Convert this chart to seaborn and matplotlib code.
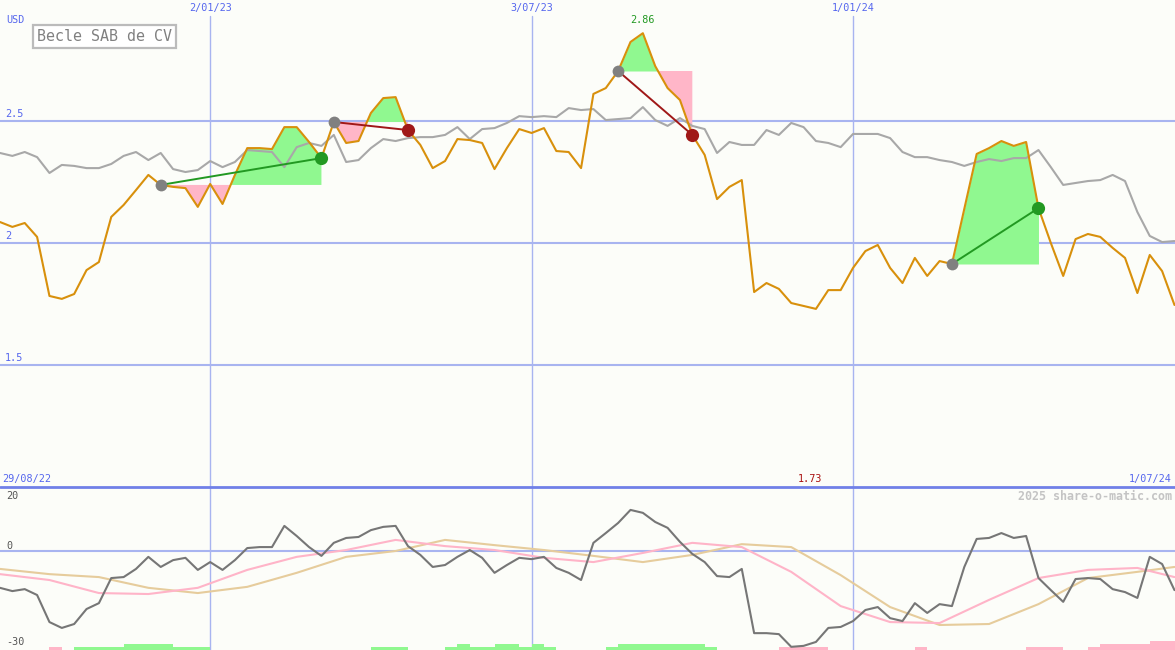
import numpy as np
import pandas as pd
import matplotlib
matplotlib.use('Agg')
import matplotlib.pyplot as plt
import seaborn as sns

# weekly closes, Becle SAB de CV (USD)
dates = pd.date_range('2022-09-05', periods=96, freq='7D')
close = [2.086, 2.066, 2.082, 2.025, 1.783, 1.771, 1.791, 1.889, 1.922, 2.107,
         2.156, 2.217, 2.279, 2.238, 2.230, 2.225, 2.148, 2.242, 2.160, 2.279,
         2.389, 2.389, 2.385, 2.475, 2.475, 2.414, 2.348, 2.496, 2.410, 2.418,
         2.533, 2.594, 2.598, 2.463, 2.402, 2.307, 2.336, 2.426, 2.422, 2.410,
         2.303, 2.389, 2.467, 2.451, 2.471, 2.377, 2.373, 2.307, 2.611, 2.635,
         2.705, 2.824, 2.860, 2.725, 2.635, 2.586, 2.443, 2.361, 2.180, 2.230,
         2.258, 1.799, 1.836, 1.812, 1.754, 1.742, 1.730, 1.807, 1.807, 1.898,
         1.967, 1.992, 1.898, 1.836, 1.939, 1.865, 1.926, 1.914, 2.140, 2.365,
         2.389, 2.418, 2.398, 2.414, 2.143, 2.000, 1.865, 2.016, 2.037, 2.025,
         1.980, 1.939, 1.795, 1.951, 1.885, 1.746]
# relative index line (grey)
index_line = [2.369, 2.357, 2.373, 2.352, 2.287, 2.320, 2.316, 2.307, 2.307, 2.324,
              2.357, 2.373, 2.340, 2.369, 2.303, 2.291, 2.299, 2.336, 2.311, 2.332,
              2.381, 2.377, 2.373, 2.311, 2.393, 2.410, 2.398, 2.443, 2.332, 2.340,
              2.389, 2.426, 2.418, 2.430, 2.434, 2.434, 2.443, 2.475, 2.426, 2.467,
              2.471, 2.492, 2.520, 2.516, 2.520, 2.516, 2.553, 2.545, 2.549, 2.504,
              2.508, 2.512, 2.557, 2.504, 2.480, 2.512, 2.480, 2.467, 2.369, 2.414,
              2.402, 2.402, 2.463, 2.443, 2.492, 2.475, 2.418, 2.410, 2.393, 2.447,
              2.447, 2.447, 2.430, 2.373, 2.352, 2.352, 2.340, 2.332, 2.316, 2.332,
              2.344, 2.336, 2.348, 2.348, 2.381, 2.311, 2.238, 2.246, 2.254, 2.258,
              2.279, 2.254, 2.127, 2.029, 2.004, 2.008]
# lower panel oscillator
momentum = [-11.3, -12.3, -11.7, -13.5, -21.8, -23.6, -22.4, -17.8, -16.0, -8.3,
            -8.0, -5.5, -1.8, -4.9, -2.8, -2.1, -5.8, -3.4, -5.8, -2.8,
            0.9, 1.2, 1.2, 7.7, 4.6, 1.2, -1.5, 2.5, 4.0, 4.3,
            6.4, 7.4, 7.7, 1.5, -1.2, -4.9, -4.3, -1.8, 0.3, -2.1,
            -6.7, -4.3, -2.1, -2.5, -1.8, -5.2, -6.7, -8.9, 2.5, 5.5,
            8.6, 12.6, 11.7, 8.9, 7.1, 2.8, -0.9, -3.4, -7.7, -8.0,
            -5.5, -25.2, -25.2, -25.5, -29.4, -29.1, -27.9, -23.6, -23.3, -21.5,
            -18.1, -17.2, -20.6, -21.5, -16.0, -19.0, -16.3, -16.9, -4.9, 3.7,
            4.0, 5.5, 4.0, 4.6, -8.3, -12.0, -15.6, -8.6, -8.3, -8.6,
            -11.7, -12.6, -14.4, -1.8, -4.0, -12.0]
smooth_idx = [0, 4, 8, 12, 16, 20, 24, 28, 32, 36, 40, 44, 48, 52, 56, 60,
              64, 68, 72, 76, 80, 84, 88, 92, 95]
smooth_fast = [-7.1, -8.9, -12.9, -13.2, -11.3, -5.8, -1.8, 0.3, 3.4, 1.5, 0.3, -2.1,
               -3.4, -0.6, 2.5, 1.2, -6.4, -16.9, -21.8, -22.1, -15.0, -8.3, -5.8, -5.2, -8.0]
smooth_slow = [-5.5, -7.1, -8.0, -11.3, -12.9, -11.0, -6.7, -1.8, 0.0, 3.4, 1.8, 0.3,
               -1.5, -3.4, -1.2, 2.1, 1.2, -7.4, -17.2, -22.7, -22.4, -16.3, -8.3, -6.4, -4.9]
signal = [0, 0, 0, 0, -1, 0, 1, 1, 1, 1, 2, 2, 2, 2, 1, 1, 1, 0, 0, 0,
          0, 0, 0, 0, 0, 0, 0, 0, 0, 0, 1, 1, 1, 0, 0, 0, 1, 2, 1, 1,
          2, 2, 1, 2, 1, 0, 0, 0, 0, 1, 2, 2, 2, 2, 2, 2, 2, 1, 0, 0,
          0, 0, 0, -1, -1, -1, -1, 0, 0, 0, 0, 0, 0, 0, -1, 0, 0, 0, 0, 0,
          0, 0, 0, -1, -1, -1, 0, 0, -1, -2, -2, -2, -2, -3, -3, -3]
trades = [(13, 26), (27, 33), (50, 56), (77, 84)]
tick_dates = ['2023-01-02', '2023-07-03', '2024-01-01']
tick_labels = ['2/01/23', '3/07/23', '1/01/24']
price_levels = [1.5, 2.0, 2.5]
price_labels = ['1.5', '2', '2.5']

sns.set_style('white')
plt.rcParams['font.family'] = ['DejaVu Sans Mono', 'DejaVu Sans']

BG = '#fcfdf9'
GRID = '#a8b4f0'
BLUE = '#5566ee'
GREEN_FILL = '#90f890'
PINK_FILL = '#ffb6c8'

W, H = 1175, 650
fig = plt.figure(figsize=(W / 100, H / 100), dpi=100, facecolor=BG)


def fx(px):
    return px / W


def fy(py):
    return 1 - py / H


ax1 = fig.add_axes([0, fy(487), 1, 487 / H])
ax2 = fig.add_axes([0, 0, 1, fy(487)])
for ax in (ax1, ax2):
    ax.set_facecolor(BG)
    ax.set_xlim(dates[0], dates[-1] + pd.Timedelta(days=0.3))
    ax.set_axis_off()

ax1.set_ylim(1.0, 2.996)
ax2.set_ylim(-30.37, 19.63)

close = np.array(close)

# grid
for lv in price_levels:
    ax1.axhline(lv, color=GRID, lw=1.5, zorder=0)
ax2.axhline(0, color=GRID, lw=1.5, zorder=0)
for d in tick_dates:
    ax1.axvline(pd.Timestamp(d), ymax=(487 - 16) / 487, color=GRID, lw=1, zorder=0)
    ax2.axvline(pd.Timestamp(d), color=GRID, lw=1, zorder=0)

# trade fills
for s, e in trades:
    xs = dates[s:e + 1]
    ys = close[s:e + 1]
    lvl = close[s]
    ax1.fill_between(xs, lvl, ys, where=ys >= lvl, interpolate=True,
                     color=GREEN_FILL, lw=0, zorder=1)
    ax1.fill_between(xs, lvl, ys, where=ys <= lvl, interpolate=True,
                     color=PINK_FILL, lw=0, zorder=1)

sns.lineplot(x=dates, y=index_line, ax=ax1, color='#a8a8a8', lw=1.5, zorder=2)
sns.lineplot(x=dates, y=close, ax=ax1, color='#d8900c', lw=1.5, zorder=3)

for s, e in trades:
    win = close[e] > close[s]
    col = '#229922' if win else '#a01818'
    ax1.plot([dates[s], dates[e]], [close[s], close[e]], color=col, lw=1.4, zorder=4)
    ax1.plot(dates[s], close[s], 'o', ms=8.5, color='#808080', mec='none', zorder=5)
    ax1.plot(dates[e], close[e], 'o', ms=9.5, color=col, mec='none', zorder=5)

# lower panel
sd = dates[smooth_idx]
sns.lineplot(x=sd, y=smooth_slow, ax=ax2, color='#e6cc9c', lw=1.5, zorder=2)
sns.lineplot(x=sd, y=smooth_fast, ax=ax2, color='#ffb4c8', lw=1.5, zorder=2)
sns.lineplot(x=dates, y=momentum, ax=ax2, color='#767676', lw=1.5, zorder=3)

sig = np.array(signal)
bar_unit = 0.92
ax2.bar(dates, np.abs(sig) * bar_unit, width=7, align='edge', bottom=-30.37,
        color=[GREEN_FILL if v > 0 else PINK_FILL for v in sig], lw=0, zorder=1)

# separator
ax2.axhline(19.63, color='#7080e8', lw=2, zorder=6, clip_on=False)

# texts
small = 7.3
for d, lab in zip(tick_dates, tick_labels):
    xp = (pd.Timestamp(d) - dates[0]).days / 7 * 12.365
    fig.text(fx(xp), fy(8), lab, color=BLUE, fontsize=small, ha='center', va='center')
fig.text(fx(6), fy(20), 'USD', color=BLUE, fontsize=small, ha='left', va='center')
for lv, lab in zip(price_levels, price_labels):
    yp = 121 + (2.5 - lv) * 244
    fig.text(fx(5), fy(yp - 2), lab, color=BLUE, fontsize=small, ha='left', va='bottom')
fig.text(fx(2), fy(479), '29/08/22', color=BLUE, fontsize=small, ha='left', va='center')
fig.text(fx(1172), fy(479), '1/07/24', color=BLUE, fontsize=small, ha='right', va='center')

imax = int(np.argmax(close))
imin = int(np.argmin(close))
ax1.annotate(f'{close[imax]:.2f}', (dates[imax], close[imax]), xytext=(0, 8),
             textcoords='offset pixels', color='#229922', fontsize=small, ha='center', va='bottom')
fig.text(fx(810), fy(479), f'{close[imin]:.2f}', color='#aa1111', fontsize=small,
         ha='center', va='center')

fig.text(fx(6), fy(496), '20', color='#555555', fontsize=small, ha='left', va='center')
fig.text(fx(6), fy(546), '0', color='#555555', fontsize=small, ha='left', va='center')
fig.text(fx(6), fy(642), '-30', color='#555555', fontsize=small, ha='left', va='center')
fig.text(fx(1172), fy(496), '2025 share-o-matic.com', color='#c4c4c4', fontsize=8.4,
         fontweight='bold', ha='right', va='center')

fig.text(fx(37), fy(36.5), 'Becle SAB de CV', color='#808080', fontsize=10.8, ha='left', va='center',
         bbox=dict(boxstyle='square,pad=0.25', fc='white', ec='#bbbbbb', lw=1.6))

fig.savefig('out.png', dpi=100, facecolor=BG)
